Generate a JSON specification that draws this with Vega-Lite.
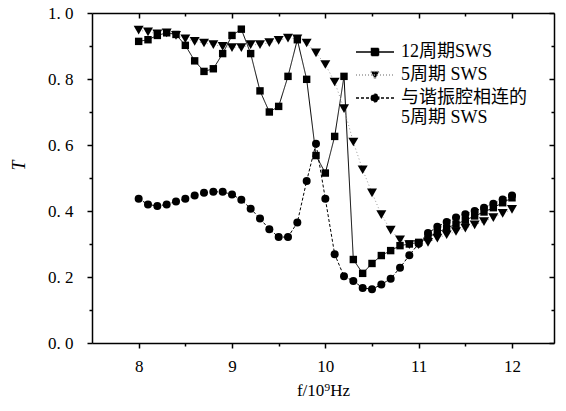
{
  "$schema": "https://vega.github.io/schema/vega-lite/v6.json",
  "width": 462,
  "height": 330,
  "autosize": "none",
  "padding": {"left": 92, "top": 13, "right": 12, "bottom": 68},
  "background": "white",
  "config": {"view": {"stroke": null}, "font": "Liberation Serif, Noto Sans CJK SC"},
  "data": {"values": [
    {"f": 8.0, "T": 0.914, "s": "12周期SWS"}, {"f": 8.1, "T": 0.919, "s": "12周期SWS"}, {"f": 8.2, "T": 0.932, "s": "12周期SWS"}, {"f": 8.3, "T": 0.940, "s": "12周期SWS"}, {"f": 8.4, "T": 0.935, "s": "12周期SWS"}, {"f": 8.5, "T": 0.902, "s": "12周期SWS"}, {"f": 8.6, "T": 0.855, "s": "12周期SWS"}, {"f": 8.7, "T": 0.823, "s": "12周期SWS"}, {"f": 8.8, "T": 0.831, "s": "12周期SWS"}, {"f": 8.9, "T": 0.877, "s": "12周期SWS"},
    {"f": 9.0, "T": 0.932, "s": "12周期SWS"}, {"f": 9.1, "T": 0.951, "s": "12周期SWS"}, {"f": 9.2, "T": 0.877, "s": "12周期SWS"}, {"f": 9.3, "T": 0.764, "s": "12周期SWS"}, {"f": 9.4, "T": 0.700, "s": "12周期SWS"}, {"f": 9.5, "T": 0.717, "s": "12周期SWS"}, {"f": 9.6, "T": 0.808, "s": "12周期SWS"}, {"f": 9.7, "T": 0.919, "s": "12周期SWS"}, {"f": 9.8, "T": 0.799, "s": "12周期SWS"}, {"f": 9.9, "T": 0.568, "s": "12周期SWS"},
    {"f": 10.0, "T": 0.515, "s": "12周期SWS"}, {"f": 10.1, "T": 0.626, "s": "12周期SWS"}, {"f": 10.2, "T": 0.808, "s": "12周期SWS"}, {"f": 10.3, "T": 0.253, "s": "12周期SWS"}, {"f": 10.4, "T": 0.211, "s": "12周期SWS"}, {"f": 10.5, "T": 0.241, "s": "12周期SWS"}, {"f": 10.6, "T": 0.265, "s": "12周期SWS"}, {"f": 10.7, "T": 0.280, "s": "12周期SWS"}, {"f": 10.8, "T": 0.295, "s": "12周期SWS"}, {"f": 10.9, "T": 0.300, "s": "12周期SWS"},
    {"f": 11.0, "T": 0.305, "s": "12周期SWS"}, {"f": 11.1, "T": 0.320, "s": "12周期SWS"}, {"f": 11.2, "T": 0.335, "s": "12周期SWS"}, {"f": 11.3, "T": 0.348, "s": "12周期SWS"}, {"f": 11.4, "T": 0.360, "s": "12周期SWS"}, {"f": 11.5, "T": 0.372, "s": "12周期SWS"}, {"f": 11.6, "T": 0.385, "s": "12周期SWS"}, {"f": 11.7, "T": 0.397, "s": "12周期SWS"}, {"f": 11.8, "T": 0.410, "s": "12周期SWS"}, {"f": 11.9, "T": 0.425, "s": "12周期SWS"}, {"f": 12.0, "T": 0.440, "s": "12周期SWS"},

    {"f": 8.0, "T": 0.948, "s": "5周期 SWS"}, {"f": 8.1, "T": 0.943, "s": "5周期 SWS"}, {"f": 8.2, "T": 0.937, "s": "5周期 SWS"}, {"f": 8.3, "T": 0.940, "s": "5周期 SWS"}, {"f": 8.4, "T": 0.932, "s": "5周期 SWS"}, {"f": 8.5, "T": 0.922, "s": "5周期 SWS"}, {"f": 8.6, "T": 0.914, "s": "5周期 SWS"}, {"f": 8.7, "T": 0.909, "s": "5周期 SWS"}, {"f": 8.8, "T": 0.904, "s": "5周期 SWS"}, {"f": 8.9, "T": 0.899, "s": "5周期 SWS"},
    {"f": 9.0, "T": 0.895, "s": "5周期 SWS"}, {"f": 9.1, "T": 0.895, "s": "5周期 SWS"}, {"f": 9.2, "T": 0.904, "s": "5周期 SWS"}, {"f": 9.3, "T": 0.904, "s": "5周期 SWS"}, {"f": 9.4, "T": 0.910, "s": "5周期 SWS"}, {"f": 9.5, "T": 0.917, "s": "5周期 SWS"}, {"f": 9.6, "T": 0.924, "s": "5周期 SWS"}, {"f": 9.7, "T": 0.922, "s": "5周期 SWS"}, {"f": 9.8, "T": 0.909, "s": "5周期 SWS"}, {"f": 9.9, "T": 0.879, "s": "5周期 SWS"},
    {"f": 10.0, "T": 0.844, "s": "5周期 SWS"}, {"f": 10.1, "T": 0.791, "s": "5周期 SWS"}, {"f": 10.2, "T": 0.710, "s": "5周期 SWS"}, {"f": 10.3, "T": 0.609, "s": "5周期 SWS"}, {"f": 10.4, "T": 0.525, "s": "5周期 SWS"}, {"f": 10.5, "T": 0.455, "s": "5周期 SWS"}, {"f": 10.6, "T": 0.389, "s": "5周期 SWS"}, {"f": 10.7, "T": 0.342, "s": "5周期 SWS"}, {"f": 10.8, "T": 0.313, "s": "5周期 SWS"}, {"f": 10.9, "T": 0.298, "s": "5周期 SWS"},
    {"f": 11.0, "T": 0.298, "s": "5周期 SWS"}, {"f": 11.1, "T": 0.305, "s": "5周期 SWS"}, {"f": 11.2, "T": 0.318, "s": "5周期 SWS"}, {"f": 11.3, "T": 0.328, "s": "5周期 SWS"}, {"f": 11.4, "T": 0.338, "s": "5周期 SWS"}, {"f": 11.5, "T": 0.348, "s": "5周期 SWS"}, {"f": 11.6, "T": 0.358, "s": "5周期 SWS"}, {"f": 11.7, "T": 0.368, "s": "5周期 SWS"}, {"f": 11.8, "T": 0.380, "s": "5周期 SWS"}, {"f": 11.9, "T": 0.393, "s": "5周期 SWS"}, {"f": 12.0, "T": 0.405, "s": "5周期 SWS"},

    {"f": 8.0, "T": 0.437, "s": "与谐振腔相连的5周期 SWS"}, {"f": 8.1, "T": 0.420, "s": "与谐振腔相连的5周期 SWS"}, {"f": 8.2, "T": 0.415, "s": "与谐振腔相连的5周期 SWS"}, {"f": 8.3, "T": 0.420, "s": "与谐振腔相连的5周期 SWS"}, {"f": 8.4, "T": 0.429, "s": "与谐振腔相连的5周期 SWS"}, {"f": 8.5, "T": 0.437, "s": "与谐振腔相连的5周期 SWS"}, {"f": 8.6, "T": 0.447, "s": "与谐振腔相连的5周期 SWS"}, {"f": 8.7, "T": 0.455, "s": "与谐振腔相连的5周期 SWS"}, {"f": 8.8, "T": 0.458, "s": "与谐振腔相连的5周期 SWS"}, {"f": 8.9, "T": 0.458, "s": "与谐振腔相连的5周期 SWS"},
    {"f": 9.0, "T": 0.450, "s": "与谐振腔相连的5周期 SWS"}, {"f": 9.1, "T": 0.434, "s": "与谐振腔相连的5周期 SWS"}, {"f": 9.2, "T": 0.407, "s": "与谐振腔相连的5周期 SWS"}, {"f": 9.3, "T": 0.377, "s": "与谐振腔相连的5周期 SWS"}, {"f": 9.4, "T": 0.345, "s": "与谐振腔相连的5周期 SWS"}, {"f": 9.5, "T": 0.321, "s": "与谐振腔相连的5周期 SWS"}, {"f": 9.6, "T": 0.321, "s": "与谐振腔相连的5周期 SWS"}, {"f": 9.7, "T": 0.365, "s": "与谐振腔相连的5周期 SWS"}, {"f": 9.8, "T": 0.491, "s": "与谐振腔相连的5周期 SWS"}, {"f": 9.9, "T": 0.604, "s": "与谐振腔相连的5周期 SWS"},
    {"f": 10.0, "T": 0.437, "s": "与谐振腔相连的5周期 SWS"}, {"f": 10.1, "T": 0.269, "s": "与谐振腔相连的5周期 SWS"}, {"f": 10.2, "T": 0.202, "s": "与谐振腔相连的5周期 SWS"}, {"f": 10.3, "T": 0.188, "s": "与谐振腔相连的5周期 SWS"}, {"f": 10.4, "T": 0.167, "s": "与谐振腔相连的5周期 SWS"}, {"f": 10.5, "T": 0.163, "s": "与谐振腔相连的5周期 SWS"}, {"f": 10.6, "T": 0.177, "s": "与谐振腔相连的5周期 SWS"}, {"f": 10.7, "T": 0.195, "s": "与谐振腔相连的5周期 SWS"}, {"f": 10.8, "T": 0.228, "s": "与谐振腔相连的5周期 SWS"}, {"f": 10.9, "T": 0.266, "s": "与谐振腔相连的5周期 SWS"},
    {"f": 11.0, "T": 0.301, "s": "与谐振腔相连的5周期 SWS"}, {"f": 11.1, "T": 0.333, "s": "与谐振腔相连的5周期 SWS"}, {"f": 11.2, "T": 0.352, "s": "与谐振腔相连的5周期 SWS"}, {"f": 11.3, "T": 0.367, "s": "与谐振腔相连的5周期 SWS"}, {"f": 11.4, "T": 0.380, "s": "与谐振腔相连的5周期 SWS"}, {"f": 11.5, "T": 0.390, "s": "与谐振腔相连的5周期 SWS"}, {"f": 11.6, "T": 0.400, "s": "与谐振腔相连的5周期 SWS"}, {"f": 11.7, "T": 0.410, "s": "与谐振腔相连的5周期 SWS"}, {"f": 11.8, "T": 0.422, "s": "与谐振腔相连的5周期 SWS"}, {"f": 11.9, "T": 0.435, "s": "与谐振腔相连的5周期 SWS"}, {"f": 12.0, "T": 0.447, "s": "与谐振腔相连的5周期 SWS"}
  ]},
  "encoding": {
    "x": {"field": "f", "type": "quantitative", "scale": {"domain": [7.5, 12.45], "nice": false, "zero": false}},
    "y": {"field": "T", "type": "quantitative", "scale": {"domain": [0, 1], "nice": false}}
  },
  "layer": [
    {
      "mark": {"type": "line", "strokeWidth": 1},
      "encoding": {
        "x": {"field": "f", "type": "quantitative",
          "axis": {"orient": "bottom", "values": [8, 8.5, 9, 9.5, 10, 10.5, 11, 11.5, 12], "labelExpr": "datum.value % 1 == 0 ? format(datum.value, 'd') : ''",
            "tickSize": {"condition": {"test": "datum.value % 1 == 0", "value": 5}, "value": 3},
            "grid": false, "domainColor": "black", "domainWidth": 1.5, "tickColor": "black", "tickWidth": 1.5,
            "labelColor": "black", "labelFont": "Liberation Serif", "labelFontSize": 17, "labelPadding": 10,
            "title": "f/10⁹Hz", "titleFont": "Liberation Serif", "titleFontSize": 17, "titleFontWeight": "normal", "titleColor": "black", "titleBaseline": "alphabetic", "titleY": 52}},
        "y": {"field": "T", "type": "quantitative",
          "axis": {"orient": "left", "values": [0, 0.1, 0.2, 0.3, 0.4, 0.5, 0.6, 0.7, 0.8, 0.9, 1.0],
            "labelExpr": "round(datum.value*10) % 2 == 0 ? replace(format(datum.value, '.1f'), '.', '. ') : ''",
            "tickSize": {"condition": {"test": "round(datum.value*10) % 2 == 0", "value": 5}, "value": 3},
            "grid": false, "domainColor": "black", "domainWidth": 1.5, "tickColor": "black", "tickWidth": 1.5,
            "labelColor": "black", "labelFont": "Liberation Serif", "labelFontSize": 17, "labelPadding": 14,
            "title": "T", "titleFont": "Liberation Serif", "titleFontStyle": "italic", "titleFontSize": 18, "titleFontWeight": "normal", "titleColor": "black", "titleX": -64, "titleY": 152}},
        "stroke": {"field": "s", "type": "nominal", "scale": {"range": ["black", "#9a9a9a", "black"]}, "legend": null},
        "strokeDash": {"field": "s", "type": "nominal", "scale": {"range": [[1, 0], [1, 2.5], [3, 2]]}, "legend": null}
      }
    },
    {
      "mark": {"type": "point", "filled": true, "opacity": 1, "color": "black", "strokeWidth": 0},
      "encoding": {
        "x": {"field": "f", "type": "quantitative",
          "axis": {"orient": "top", "values": [8, 8.5, 9, 9.5, 10, 10.5, 11, 11.5, 12], "labels": false, "title": null,
            "tickSize": {"condition": {"test": "datum.value % 1 == 0", "value": -5}, "value": -3},
            "grid": false, "domainColor": "black", "domainWidth": 1.5, "tickColor": "black", "tickWidth": 1.5}},
        "y": {"field": "T", "type": "quantitative",
          "axis": {"orient": "right", "values": [0, 0.1, 0.2, 0.3, 0.4, 0.5, 0.6, 0.7, 0.8, 0.9, 1.0], "labels": false, "title": null,
            "tickSize": {"condition": {"test": "round(datum.value*10) % 2 == 0", "value": -5}, "value": -3},
            "grid": false, "domainColor": "black", "domainWidth": 1.5, "tickColor": "black", "tickWidth": 1.5}},
        "size": {"condition": [{"test": "datum.s == '5周期 SWS'", "value": 100}, {"test": "datum.s == '12周期SWS'", "value": 55}], "value": 64},
        "shape": {"field": "s", "type": "nominal", "scale": {"range": ["square", "triangle-down", "circle"]}, "legend": null}
      }
    },
    {
      "transform": [{"filter": "datum.f < 0"}],
      "mark": {"type": "point", "filled": true, "fill": "black", "opacity": 1, "strokeWidth": 1},
      "encoding": {
        "x": {"field": "f", "type": "quantitative", "axis": null},
        "y": {"field": "T", "type": "quantitative", "axis": null},
        "shape": {"field": "s", "type": "nominal",
          "scale": {"domain": ["12周期SWS", "5周期 SWS", "与谐振腔相连的5周期 SWS"],
            "range": ["M-4.75,0H4.75M-0.875,-0.875H0.875V0.875H-0.875Z", "M-4.75,0H4.75M-1.05,-0.85H1.05L0,1Z", "M-4.75,0H4.75M-0.95,0A0.95,0.95 0 1,0 0.95,0A0.95,0.95 0 1,0 -0.95,0Z"]},
          "legend": {"orient": "none", "legendX": 274, "legendY": 30, "title": null, "padding": 0,
            "labelFont": "Liberation Serif, Noto Sans CJK SC", "labelFontSize": 18, "labelColor": "black", "labelLimit": 300,
            "symbolSize": 64, "labelOffset": 17, "rowPadding": 5,
            "labelExpr": "datum.value == '与谐振腔相连的5周期 SWS' ? ['与谐振腔相连的', '5周期 SWS'] : datum.label"}},
        "stroke": {"field": "s", "type": "nominal",
          "scale": {"domain": ["12周期SWS", "5周期 SWS", "与谐振腔相连的5周期 SWS"], "range": ["black", "#9a9a9a", "black"]},
          "legend": {"orient": "none", "legendX": 274, "legendY": 30, "title": null, "padding": 0,
            "labelFont": "Liberation Serif, Noto Sans CJK SC", "labelFontSize": 18, "labelColor": "black", "labelLimit": 300,
            "symbolSize": 64, "labelOffset": 17, "rowPadding": 5,
            "labelExpr": "datum.value == '与谐振腔相连的5周期 SWS' ? ['与谐振腔相连的', '5周期 SWS'] : datum.label"}},
        "strokeDash": {"field": "s", "type": "nominal",
          "scale": {"domain": ["12周期SWS", "5周期 SWS", "与谐振腔相连的5周期 SWS"], "range": [[1, 0], [1, 2], [3, 2]]},
          "legend": {"orient": "none", "legendX": 274, "legendY": 30, "title": null, "padding": 0,
            "labelFont": "Liberation Serif, Noto Sans CJK SC", "labelFontSize": 18, "labelColor": "black", "labelLimit": 300,
            "symbolSize": 64, "labelOffset": 17, "rowPadding": 5,
            "labelExpr": "datum.value == '与谐振腔相连的5周期 SWS' ? ['与谐振腔相连的', '5周期 SWS'] : datum.label"}}
      }
    }
  ],
  "resolve": {"axis": {"x": "independent", "y": "independent"}, "scale": {"shape": "independent", "stroke": "independent", "strokeDash": "independent"}}
}
